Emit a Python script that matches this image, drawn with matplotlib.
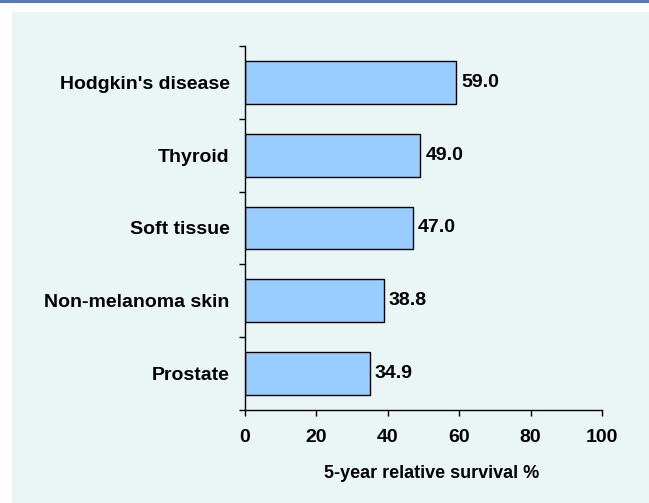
import matplotlib.pyplot as plt
from matplotlib.patches import Rectangle

# data
sites = ["Prostate", "Non-melanoma skin", "Soft tissue", "Thyroid", "Hodgkin's disease"]
survival = [34.9, 38.8, 47.0, 49.0, 59.0]
xticks = [0, 20, 40, 60, 80, 100]

plt.rcParams['font.family'] = ['Liberation Sans', 'DejaVu Sans']
plt.rcParams['font.weight'] = 'bold'

W, H = 649, 503
fig = plt.figure(figsize=(W / 100, H / 100), dpi=100)
fig.patch.set_facecolor('white')

# background panel and top rule
fig.patches.append(Rectangle((12 / W, 0), 1, (H - 12) / H, transform=fig.transFigure,
                             facecolor='#eaf6f6', edgecolor='none', zorder=-10))
fig.patches.append(Rectangle((0, (H - 2.5) / H), 1, 2.5 / H, transform=fig.transFigure,
                             facecolor='#5a78bd', edgecolor='none', zorder=-10))

# axes: x 245..602, y 46..410 (pixels from top)
ax = fig.add_axes([245 / W, (H - 410) / H, (602 - 245) / W, (410 - 46) / H])
ax.set_facecolor('none')

pos = range(len(sites))
ax.barh(pos, survival, height=0.59, color='#99ccff', edgecolor='black', linewidth=1)
for p, v in zip(pos, survival):
    ax.text(v + 1.5, p, f"{v:.1f}", va='center', ha='left', fontsize=14, fontweight='bold')

ax.set_xlim(0, 100)
ax.set_ylim(-0.5, len(sites) - 0.5)
ax.set_xticks(xticks)
ax.set_xticklabels([str(t) for t in xticks], fontsize=14, fontweight='bold')
ax.set_yticks(list(pos))
ax.set_yticklabels(sites, fontsize=14, fontweight='bold')
ax.tick_params(axis='y', length=0, pad=11)
# boundary ticks on the y axis
ax.set_yticks([i - 0.5 for i in range(len(sites) + 1)], minor=True)
ax.tick_params(axis='y', which='minor', length=4, width=1, direction='out')
ax.tick_params(axis='x', length=4, width=1, direction='out', pad=10)

for s in ['top', 'right']:
    ax.spines[s].set_visible(False)
ax.spines['left'].set_linewidth(1)
ax.spines['bottom'].set_linewidth(1)

ax.set_xlabel("5-year relative survival %", fontsize=13, fontweight='bold')
ax.xaxis.set_label_coords(0.524, -0.152)

fig.savefig('out.png', dpi=100)
